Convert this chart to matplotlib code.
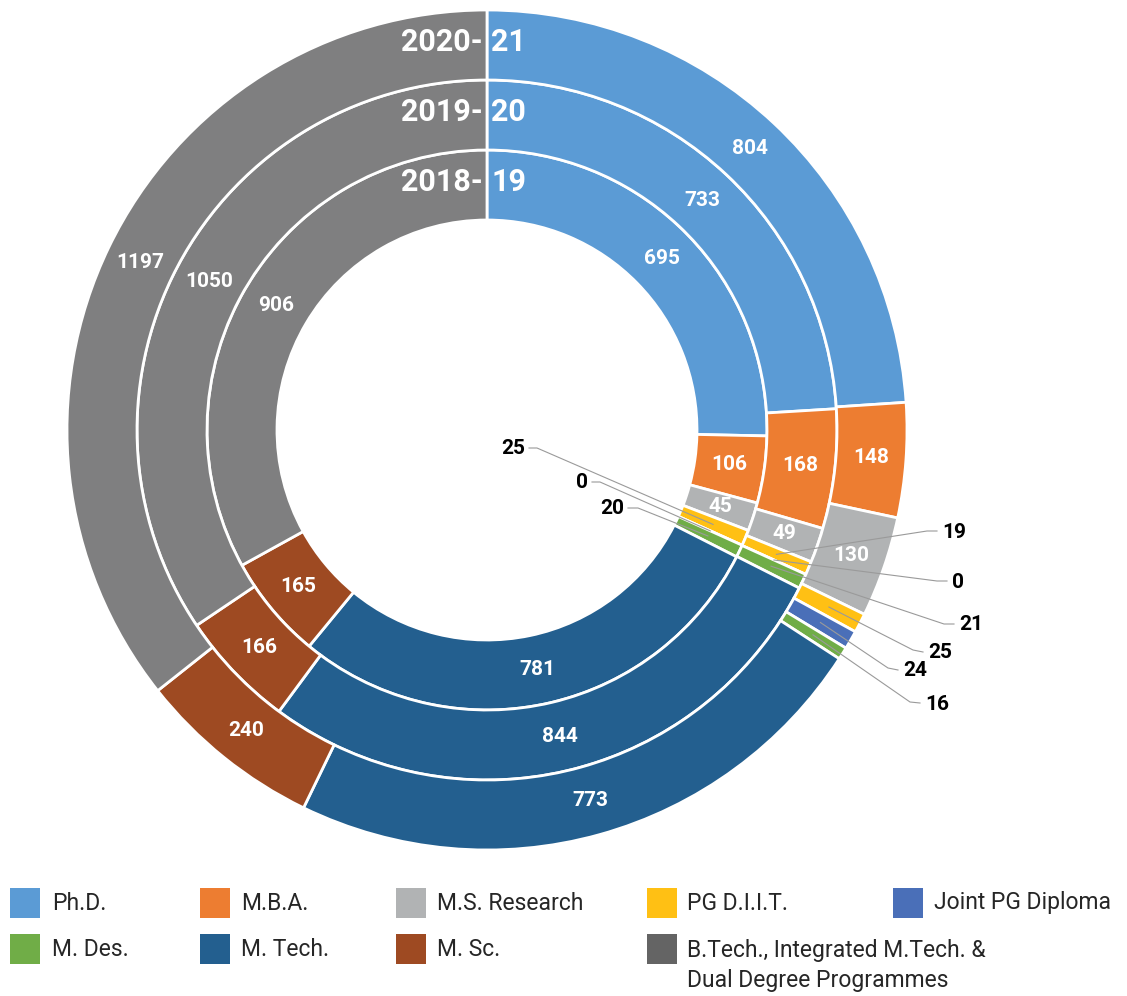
import matplotlib
matplotlib.use('Agg')
import matplotlib.pyplot as plt
from matplotlib.patches import Rectangle
import numpy as np

plt.rcParams['font.family'] = ['Roboto', 'DejaVu Sans']

# categories, clockwise from the top
categories = ['Ph.D.', 'M.B.A.', 'M.S. Research', 'PG D.I.I.T.', 'Joint PG Diploma',
              'M. Des.', 'M. Tech.', 'M. Sc.',
              'B.Tech., Integrated M.Tech. &\nDual Degree Programmes']
colors = ['#5B9BD5', '#ED7D31', '#B1B3B4', '#FFC014', '#4A6FB8',
          '#70AD47', '#235F8F', '#9E4A22', '#7F7F80']
legend_colors = colors[:-1] + ['#646464']

years = ['2018-19', '2019-20', '2020-21']
v2018 = [695, 106, 45, 25, 0, 20, 781, 165, 906]
v2019 = [733, 168, 49, 19, 0, 21, 844, 166, 1050]
v2020 = [804, 148, 130, 25, 24, 16, 773, 240, 1197]

W, H = 1127, 996
fig = plt.figure(figsize=(W / 100, H / 100), dpi=100)
ax = fig.add_axes([0, 0, 1, 1])

def Y(y):
    return H - y

cx, cy = 487, Y(430)
ring_w = 70
radii = [280, 350, 420]
series = [v2018, v2019, v2020]

# small segments labelled outside with leader lines: (ring, cat) -> text pos, align, line end
outside = {
    (0, 3): (525, 448, 'right', (529, 448), (537, 448)),
    (0, 4): (588, 482, 'right', (592, 482), (600, 482)),
    (0, 5): (624, 508, 'right', (628, 508), (638, 508)),
    (1, 3): (942, 532, 'left', (937, 531), (927, 531)),
    (1, 4): (952, 582, 'left', (947, 581), (937, 581)),
    (1, 5): (959, 625, 'left', (954, 624), (944, 624)),
    (2, 3): (928, 653, 'left', (923, 652), (913, 650)),
    (2, 4): (903, 671, 'left', (898, 670), (888, 668)),
    (2, 5): (925, 704, 'left', (920, 703), (910, 702)),
}

for ri, (vals, r) in enumerate(zip(series, radii)):
    wedges, _ = ax.pie(vals, radius=r, center=(cx, cy), startangle=90, counterclock=False,
                       colors=colors,
                       wedgeprops=dict(width=ring_w, edgecolor='white', linewidth=2))
    rm = r - ring_w / 2
    for ci, w in enumerate(wedges):
        ang = np.deg2rad((w.theta1 + w.theta2) / 2)
        px, py = cx + rm * np.cos(ang), cy + rm * np.sin(ang)
        if (ri, ci) in outside:
            tx, ty, ha, p1, p2 = outside[(ri, ci)]
            ax.plot([px, p2[0], p1[0]], [py, Y(p2[1]), Y(p1[1])], color='#9A9A9A', lw=0.8)
            ax.text(tx, Y(ty), str(vals[ci]), ha=ha, va='center', fontsize=15,
                    fontweight='bold', color='black')
        else:
            ax.text(px, py, str(vals[ci]), ha='center', va='center', fontsize=15,
                    fontweight='bold', color='white')
    # year label at top of ring
    first, second = years[ri].split('-')
    ax.text(cx - 4, cy + rm + 3, first + '-', ha='right', va='center', fontsize=22,
            fontweight='bold', color='white')
    ax.text(cx + 4, cy + rm + 3, second, ha='left', va='center', fontsize=22,
            fontweight='bold', color='white')

# legend
sq_x = [10, 200, 396, 647, 893]
tx_x = [52, 241, 437, 687, 934]
row_y = [903, 949]
for i, (lab, col) in enumerate(zip(categories, legend_colors)):
    r, c = divmod(i, 5)
    y = row_y[r]
    ax.add_patch(Rectangle((sq_x[c], Y(y + 15)), 30, 30, color=col, lw=0))
    for k, line in enumerate(lab.split('\n')):
        ly = y + 2 + 29 * k if '\n' in lab else y
        ax.text(tx_x[c], Y(ly), line, ha='left', va='center', fontsize=16.5,
                color='#262626')

ax.set_xlim(0, W)
ax.set_ylim(0, H)
ax.set_aspect('equal')
ax.axis('off')
fig.savefig('out.png', dpi=100)
